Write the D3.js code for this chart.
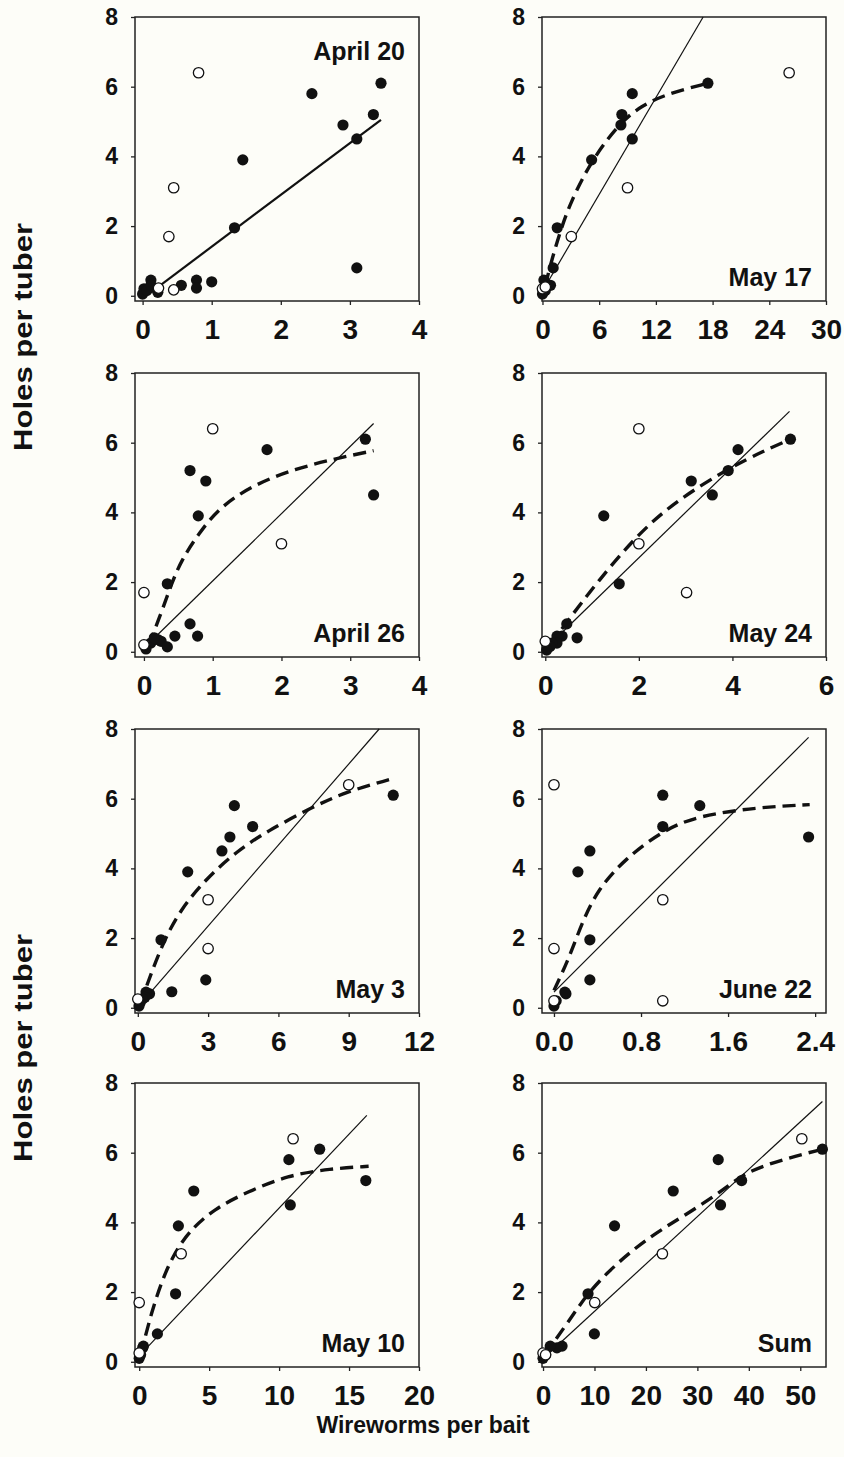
<!DOCTYPE html>
<html lang="en">
	<head>
		<meta charset="utf-8">
		<title>D3: Holes per tuber vs wireworms per bait</title>
		<script type="text/javascript" src="https://cdn.jsdelivr.net/npm/d3@7"></script>
		<style type="text/css">

		body {
			margin: 0;
			background: #fdfdf8;
		}

		svg text {
			font-family: "Liberation Sans", Arial, sans-serif;
			font-weight: bold;
			fill: #111;
		}

		.frame {
			fill: none;
			stroke: #222;
			stroke-width: 1.5;
		}

		.axis path {
			display: none;
		}

		.axis line {
			stroke: #222;
			stroke-width: 1.3;
		}

		</style>
	</head>
	<body>

		<script type="text/javascript">

		//Panel titles, in reading order (left to right, top to bottom)
		var panelNames = ["April 20", "May 17", "April 26", "May 24", "May 3", "June 22", "May 10", "Sum"];

		//x axis range and tick labels for each panel
		var xMin = [-0.11, -0.05, -0.13, -0.07, -0.12, -0.11, -0.3, -0.2];
		var xMax = [4, 30, 4, 6, 12, 2.5, 20, 55];
		var xTicks = [
			[0, 1, 2, 3, 4],
			[0, 6, 12, 18, 24, 30],
			[0, 1, 2, 3, 4],
			[0, 2, 4, 6],
			[0, 3, 6, 9, 12],
			[0, 0.8, 1.6, 2.4],
			[0, 5, 10, 15, 20],
			[0, 10, 20, 30, 40, 50]
		];
		var xFormat = ["d", "d", "d", "d", "d", ".1f", "d", "d"];
		var yTicks = [0, 2, 4, 6, 8];

		//Filled circles
		var filledX = [
			[2.45, 3.45, 3.34, 2.9, 3.1, 1.45, 1.33, 3.1, 1.0, 0.78, 0.78, 0.56, 0.12, 0.02, 0.0, 0.22, 0.06, 0.12],
			[17.5, 9.5, 8.4, 8.3, 9.5, 5.2, 1.56, 1.13, 0.85, 0.15, 0.0, 0.3],
			[3.22, 1.79, 0.67, 0.9, 3.34, 0.79, 0.34, 0.67, 0.78, 0.45, 0.1, 0.25, 0.34, 0.03, 0.2, 0.15],
			[5.24, 4.12, 3.91, 3.12, 3.57, 1.25, 1.58, 0.46, 0.68, 0.36, 0.25, 0.25, 0.14, 0.1, 0.03],
			[10.9, 4.12, 4.9, 3.93, 3.59, 2.13, 0.99, 2.9, 1.45, 0.5, 0.35, 0.3, 0.2, 0.1, 0.05],
			[1.0, 1.34, 1.0, 2.34, 0.33, 0.22, 0.33, 0.33, 0.11, 0.1, 0.0, 0.02],
			[12.9, 10.7, 16.2, 3.9, 10.8, 2.8, 2.6, 1.3, 0.3, 0.25, 0.0, 0.1],
			[54.3, 34.05, 38.6, 25.3, 34.5, 13.9, 8.75, 9.98, 3.7, 2.7, 1.4, 0.5, 0.0]
		];
		var filledY = [
			[5.8, 6.1, 5.2, 4.9, 4.5, 3.9, 1.95, 0.8, 0.4, 0.45, 0.22, 0.3, 0.45, 0.2, 0.05, 0.1, 0.15, 0.3],
			[6.1, 5.8, 5.2, 4.9, 4.5, 3.9, 1.95, 0.8, 0.3, 0.45, 0.05, 0.15],
			[6.1, 5.8, 5.2, 4.9, 4.5, 3.9, 1.95, 0.8, 0.45, 0.45, 0.25, 0.3, 0.14, 0.08, 0.35, 0.4],
			[6.1, 5.8, 5.2, 4.9, 4.5, 3.9, 1.95, 0.8, 0.4, 0.45, 0.45, 0.25, 0.25, 0.15, 0.05],
			[6.1, 5.8, 5.2, 4.9, 4.5, 3.9, 1.95, 0.8, 0.46, 0.4, 0.45, 0.3, 0.25, 0.15, 0.05],
			[6.1, 5.8, 5.2, 4.9, 4.5, 3.9, 1.95, 0.8, 0.4, 0.45, 0.05, 0.2],
			[6.1, 5.8, 5.2, 4.9, 4.5, 3.9, 1.95, 0.8, 0.45, 0.4, 0.1, 0.2],
			[6.1, 5.8, 5.2, 4.9, 4.5, 3.9, 1.95, 0.8, 0.45, 0.4, 0.45, 0.2, 0.1]
		];

		//Open circles
		var openX = [
			[0.81, 0.45, 0.38, 0.45, 0.23],
			[26.1, 9.0, 3.05, 0.0, 0.3],
			[1.0, 2.0, 0.0, 0.0],
			[2.0, 2.0, 3.02, 0.0],
			[9.0, 3.0, 3.0, 0.0],
			[0.0, 0.0, 1.0, 1.0, 0.0],
			[11.0, 3.0, 0.0, 0.0],
			[50.3, 23.2, 10.05, 0.0, 0.5]
		];
		var openY = [
			[6.4, 3.1, 1.7, 0.17, 0.22],
			[6.4, 3.1, 1.7, 0.2, 0.25],
			[6.4, 3.1, 1.7, 0.2],
			[6.4, 3.1, 1.7, 0.3],
			[6.4, 3.1, 1.7, 0.25],
			[6.4, 1.7, 3.1, 0.2, 0.2],
			[6.4, 3.1, 1.7, 0.25],
			[6.4, 3.1, 1.7, 0.25, 0.2]
		];

		//Straight (linear) fit, end points
		var lineX = [[0.12, 3.45], [0.15, 17.0], [0.05, 3.34], [0.05, 5.22], [0.1, 10.3], [0.0, 2.34], [0.07, 16.27], [0.1, 54.3]];
		var lineY = [[0.1, 5.05], [0.2, 8.0], [0.2, 6.55], [0.15, 6.9], [0.1, 8.0], [0.45, 7.76], [0.2, 7.07], [0.1, 7.47]];

		//Dashed (curved) fit
		var curveX = [
			[],
			[0.3, 1, 2, 3, 5.2, 8.3, 10.5, 13, 17.5],
			[0.07, 0.25, 0.4, 0.55, 0.8, 1.1, 1.6, 2.2, 2.8, 3.34],
			[0.1, 0.46, 1.11, 2.0, 2.82, 3.9, 4.68, 5.24],
			[0.1, 0.95, 1.8, 2.94, 4.22, 5.5, 7.48, 8.9, 10.75],
			[0.0, 0.14, 0.26, 0.41, 0.66, 1.0, 1.33, 1.9, 2.35],
			[0.1, 0.9, 1.61, 2.32, 3.5, 5.39, 7.76, 10.6, 13.67, 16.4],
			[0.3, 5.0, 8.9, 14.7, 21.2, 27.7, 35.5, 39.4, 47.1, 54.3]
		];
		var curveY = [
			[],
			[0.3, 1.05, 1.95, 2.7, 3.9, 5.0, 5.45, 5.78, 6.1],
			[0.2, 1.1, 1.95, 2.65, 3.4, 4.15, 4.8, 5.25, 5.55, 5.77],
			[0.2, 0.85, 2.0, 3.41, 4.35, 5.25, 5.77, 6.1],
			[0.1, 1.71, 2.81, 3.72, 4.49, 5.06, 5.77, 6.2, 6.55],
			[0.5, 1.43, 2.47, 3.43, 4.29, 5.09, 5.52, 5.76, 5.83],
			[0.2, 1.45, 2.3, 2.97, 3.73, 4.4, 4.88, 5.35, 5.54, 5.61],
			[0.2, 1.16, 2.02, 2.88, 3.64, 4.21, 4.97, 5.45, 5.83, 6.1]
		];

		//Width and height
		var w = 844;
		var h = 1457;
		var plotW = 284;
		var plotH = 284;
		var colX = [135, 542];
		var rowY = [17, 373, 729, 1083];

		//Create SVG element
		var svg = d3.select("body")
					.append("svg")
					.attr("width", w)
					.attr("height", h);

		var y = d3.scaleLinear()
				.domain([-0.15, 8])
				.range([plotH, 0]);

		var line = d3.line()
				.curve(d3.curveBasis);

		panelNames.forEach(function(name, i) {

			var x = d3.scaleLinear()
					.domain([xMin[i], xMax[i]])
					.range([0, plotW]);

			var g = svg.append("g")
				.attr("transform", "translate(" + colX[i % 2] + "," + rowY[Math.floor(i / 2)] + ")");

			//Axes
			g.append("g")
				.attr("class", "axis")
				.attr("transform", "translate(0," + plotH + ")")
				.call(d3.axisBottom(x)
					.tickValues(xTicks[i])
					.tickFormat(d3.format(xFormat[i]))
					.tickSizeOuter(0)
					.tickSize(4)
					.tickPadding(14))
				.selectAll("text")
				.style("font-size", "28px");

			g.append("g")
				.attr("class", "axis")
				.call(d3.axisLeft(y)
					.tickValues(yTicks)
					.tickSizeOuter(0)
					.tickSize(4)
					.tickPadding(13))
				.selectAll("text")
				.style("font-size", "23px");

			g.append("rect")
				.attr("class", "frame")
				.attr("width", plotW)
				.attr("height", plotH);

			//Straight fit
			g.append("line")
				.attr("x1", x(lineX[i][0]))
				.attr("y1", y(lineY[i][0]))
				.attr("x2", x(lineX[i][1]))
				.attr("y2", y(lineY[i][1]))
				.style("stroke", "#111")
				.style("stroke-width", i == 0 ? 2.2 : 1.2);

			//Curved fit
			if (curveX[i].length) {
				g.append("path")
					.attr("d", line(curveX[i].map(function(d, k) {
						return [x(d), y(curveY[i][k])];
					})))
					.style("fill", "none")
					.style("stroke", "#111")
					.style("stroke-width", 3.4)
					.style("stroke-dasharray", "13,7");
			}

			//Filled points
			g.selectAll("circle.filled")
				.data(filledX[i])
				.enter()
				.append("circle")
				.attr("class", "filled")
				.attr("cx", function(d) { return x(d); })
				.attr("cy", function(d, k) { return y(filledY[i][k]); })
				.attr("r", 5.6)
				.style("fill", "#111");

			//Open points
			g.selectAll("circle.open")
				.data(openX[i])
				.enter()
				.append("circle")
				.attr("class", "open")
				.attr("cx", function(d) { return x(d); })
				.attr("cy", function(d, k) { return y(openY[i][k]); })
				.attr("r", 5.2)
				.style("fill", "#fff")
				.style("stroke", "#111")
				.style("stroke-width", 1.3);

			//Panel title
			g.append("text")
				.attr("x", plotW - 14)
				.attr("y", i == 0 ? 43 : plotH - 15)
				.attr("text-anchor", "end")
				.style("font-size", "25px")
				.text(name);
		});

		//Axis titles
		[0, 2].forEach(function(r) {
			var cy = (rowY[r] + rowY[r + 1] + plotH) / 2;
			svg.append("text")
				.attr("transform", "translate(32," + cy + ") rotate(-90)")
				.attr("text-anchor", "middle")
				.attr("textLength", 228)
				.attr("lengthAdjust", "spacingAndGlyphs")
				.style("font-size", "25px")
				.text("Holes per tuber");
		});

		svg.append("text")
			.attr("x", 423)
			.attr("y", 1433)
			.attr("text-anchor", "middle")
			.style("font-size", "23px")
			.text("Wireworms per bait");

		</script>
	</body>
</html>
